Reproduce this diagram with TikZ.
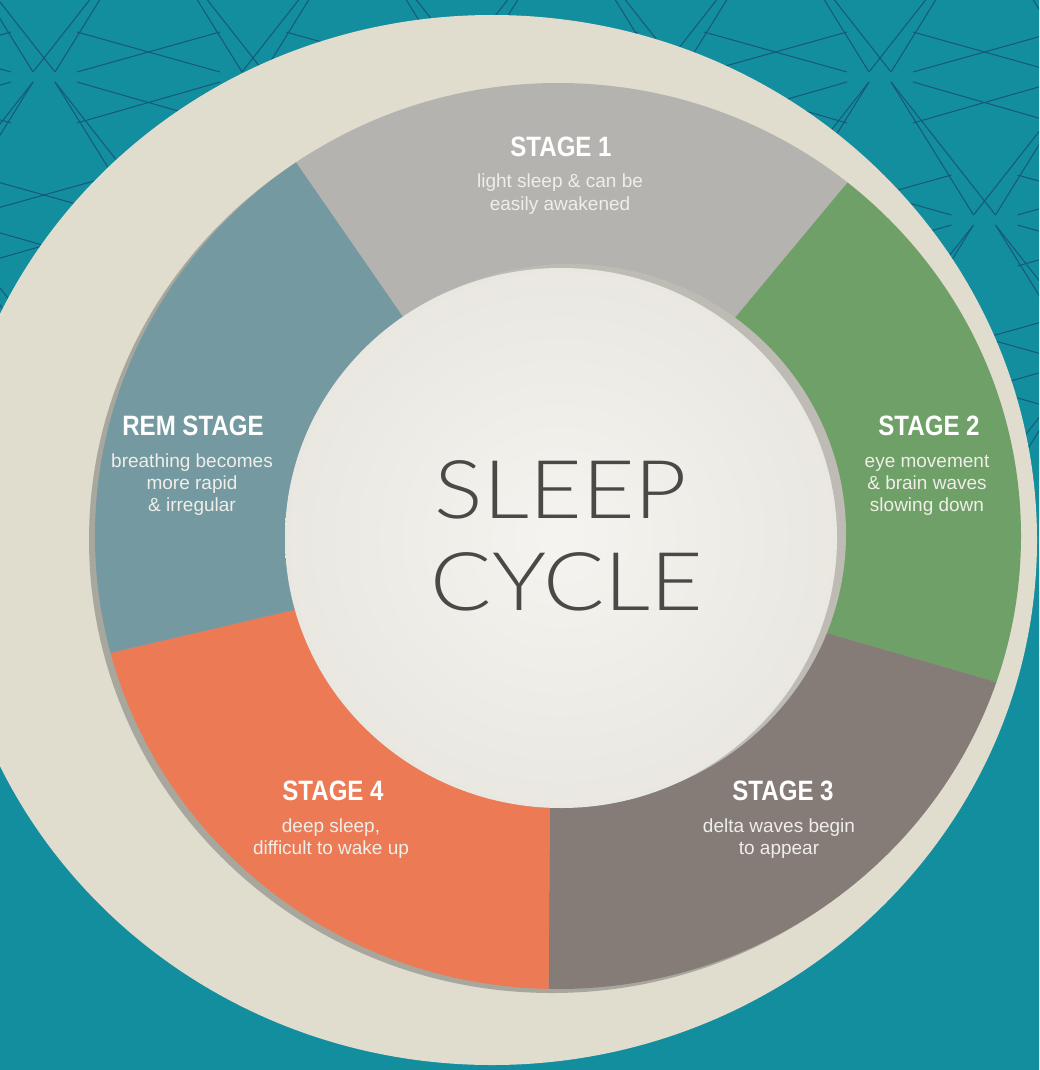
\documentclass[tikz,border=0pt]{standalone}
\usepackage{fontspec}
\setmainfont{Liberation Sans}
\newfontfamily\headfont{Liberation Sans Bold}[FakeStretch=0.86]
\newfontfamily\titlefont{Lato Light}[FakeStretch=1.12]

\definecolor{bgteal}{HTML}{138E9E}
\definecolor{patline}{HTML}{17587A}
\definecolor{plate}{HTML}{E0DCCE}
\definecolor{ringshadow}{HTML}{A8A79E}
\definecolor{stageone}{HTML}{B4B3AF}
\definecolor{stagetwo}{HTML}{6EA067}
\definecolor{stagethree}{HTML}{857B77}
\definecolor{stagefour}{HTML}{EC7A55}
\definecolor{remstage}{HTML}{7499A1}
\definecolor{disc}{HTML}{EEECE5}
\definecolor{discshadow}{HTML}{BDBBB3}
\definecolor{titlegrey}{HTML}{4A4946}
\definecolor{bodytext}{HTML}{F0EEE9}

\tikzset{
  patstroke/.style={draw=patline, line width=1pt},
  head/.style={font=\headfont\fontsize{28}{30}\selectfont, text=white, anchor=base, inner sep=0pt},
  body/.style={font=\fontsize{19}{22}\selectfont, text=bodytext, anchor=base, inner sep=0pt},
  title/.style={font=\titlefont\fontsize{81}{90}\selectfont, text=titlegrey, anchor=base, inner sep=0pt}
}

\begin{document}
\begin{tikzpicture}[x=1pt,y=-1pt]
\useasboundingbox (0,0) rectangle (1039,1070);
\fill[bgteal] (0,0) rectangle (1039,1070);

% geometric line lattice in the upper part of the background
\begin{scope}
\clip (0,0) rectangle (1039,450);
\foreach \j in {-1,...,4} {
  \foreach \i in {-1,...,5} {
    \pgfmathsetmacro\cx{44+209*\i+104.5*mod(\j+2,2)}
    \pgfmathsetmacro\cy{77+143*\j}
    % horizontal crossed bands towards the right neighbour
    \draw[patstroke] (\cx+33,\cy-45) -- (\cx+176,\cy-5);
    \draw[patstroke] (\cx+33,\cy-5) -- (\cx+176,\cy-45);
    \draw[patstroke] (\cx+33,\cy+46) -- (\cx+176,\cy+5);
    \draw[patstroke] (\cx+33,\cy+5) -- (\cx+176,\cy+46);
    % long thin triangles towards the upper neighbours
    \draw[patstroke] (\cx-11,\cy-5) -- (\cx-93.5,\cy-138);
    \draw[patstroke] (\cx-11,\cy-5) -- (\cx+93.5,\cy-138);
    \draw[patstroke] (\cx+11,\cy-5) -- (\cx-93.5,\cy-138);
    \draw[patstroke] (\cx+11,\cy-5) -- (\cx+93.5,\cy-138);
  }
}
\end{scope}

% outer plate
\fill[plate] (492,540) ellipse [x radius=545, y radius=525];

% shadow under the coloured ring
\fill[ringshadow] (552,540) ellipse [x radius=463, y radius=453];

% coloured ring segments
\coordinate (C) at (558,537);
\coordinate (ain) at (421,343);  \coordinate (afar) at (241,83);
\coordinate (bin) at (710,348);  \coordinate (bfar) at (912,105);
\coordinate (cin) at (785,621);  \coordinate (cfar) at (1103,713);
\coordinate (din) at (550,770);  \coordinate (dfar) at (548,1090);
\coordinate (ein) at (332,601);  \coordinate (efar) at (16,675);
\begin{scope}
\clip (558,536) ellipse [x radius=463, y radius=453];
\fill[stageone] (C) -- (ain) -- (afar) -- (150,-100) -- (1000,-100) -- (bfar) -- (bin) -- cycle;
\fill[stagetwo] (C) -- (bin) -- (bfar) -- (1000,-100) -- (1200,-100) -- (1200,740) -- (cfar) -- (cin) -- cycle;
\fill[stagethree] (C) -- (cin) -- (cfar) -- (1200,740) -- (1200,1200) -- (548,1200) -- (dfar) -- (din) -- cycle;
\fill[stagefour] (C) -- (din) -- (dfar) -- (548,1200) -- (-100,1200) -- (-100,700) -- (efar) -- (ein) -- cycle;
\fill[remstage] (C) -- (ein) -- (efar) -- (-100,700) -- (-100,-100) -- (150,-100) -- (afar) -- (ain) -- cycle;
\end{scope}

% centre disc with its shadow
\fill[discshadow] (570,534) ellipse [x radius=276, y radius=270];
\shade[inner color=disc!60!white, outer color=disc!98!black] (561,538) ellipse [x radius=276, y radius=270];

% titles
\node[title] (sleep) at (561,518) {SLEEP};
\node[title] (cycle) at (567,610) {CYCLE};

% stage 1
\node[head] (h1) at (561,157) {STAGE 1};
\node[body] (s1a) at (560,187) {light sleep \& can be};
\node[body] (s1b) at (560,210) {easily awakened};

% stage 2
\node[head] (h2) at (929,435) {STAGE 2};
\node[body] (s2a) at (927,467) {eye movement};
\node[body] (s2b) at (927,489) {\& brain waves};
\node[body] (s2c) at (927,511) {slowing down};

% stage 3
\node[head] (h3) at (783,800) {STAGE 3};
\node[body] (s3a) at (779,832) {delta waves begin};
\node[body] (s3b) at (779,854) {to appear};

% stage 4
\node[head] (h4) at (333,800) {STAGE 4};
\node[body] (s4a) at (331,832) {deep sleep,};
\node[body] (s4b) at (331,854) {difficult to wake up};

% REM stage
\node[head] (hr) at (193,435) {REM STAGE};
\node[body] (ra) at (192,467) {breathing becomes};
\node[body] (rb) at (192,489) {more rapid};
\node[body] (rc) at (192,511) {\& irregular};
\end{tikzpicture}
\end{document}
